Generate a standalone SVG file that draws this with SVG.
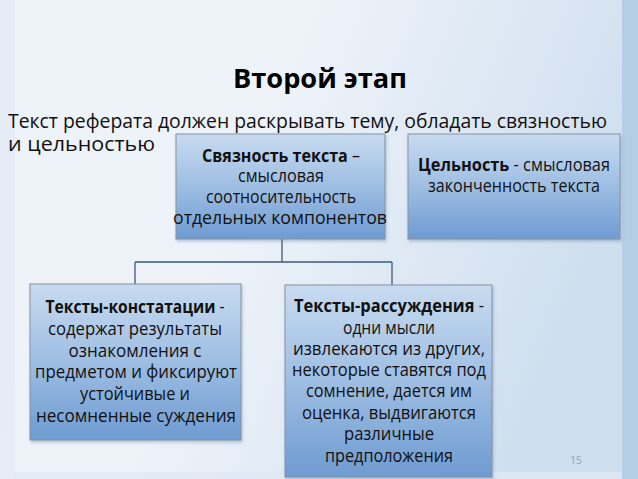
<svg xmlns="http://www.w3.org/2000/svg" width="638" height="479" viewBox="0 0 638 479">
<defs>
<linearGradient id="bg" x1="0" y1="0" x2="1" y2="0.3">
<stop offset="0" stop-color="#eef2f9"/>
<stop offset="0.45" stop-color="#eef3f9"/>
<stop offset="1" stop-color="#cfdfef"/>
</linearGradient>
<linearGradient id="box" x1="0" y1="0" x2="0" y2="1">
<stop offset="0" stop-color="#c8dbf0"/>
<stop offset="0.5" stop-color="#9ebee3"/>
<stop offset="1" stop-color="#6e9bd1"/>
</linearGradient>
<filter id="sh" x="-10%" y="-10%" width="120%" height="120%">
<feDropShadow dx="1" dy="2" stdDeviation="1.5" flood-color="#4a6a90" flood-opacity="0.35"/>
</filter>
</defs>
<style>
.b{fill:url(#box);stroke:#8792a3;stroke-width:1;filter:url(#sh)}
.t{font-family:"Open Sans","Noto Sans","DejaVu Sans",sans-serif;font-size:18.5px;fill:#111;text-anchor:middle}
.k{font-weight:bold}
.c{fill:none;stroke:#3c5a7c;stroke-width:1.3}
</style>
<rect x="0" y="0" width="638" height="479" fill="url(#bg)"/>
<rect x="0" y="0" width="15" height="479" fill="#e3eaf4" opacity="0.7"/>
<rect x="622" y="0" width="16" height="479" fill="#b6cde6"/>
<rect x="15" y="472" width="607" height="7" fill="#e0e9f4" opacity="0.8"/>

<g id="title">
<text x="320" y="88" font-family="'Open Sans','Noto Sans',sans-serif" font-size="27" font-weight="bold" fill="#000" text-anchor="middle" textLength="174" lengthAdjust="spacingAndGlyphs">Второй этап</text>
</g>
<g id="intro">
<text x="8" y="128" font-family="'Open Sans','Noto Sans',sans-serif" font-size="19.5" fill="#111" textLength="599" lengthAdjust="spacingAndGlyphs">Текст реферата должен раскрывать тему, обладать связностью</text>
<text x="8" y="151" font-family="'Open Sans','Noto Sans',sans-serif" font-size="19.5" fill="#111" textLength="147" lengthAdjust="spacingAndGlyphs">и цельностью</text>
</g>

<g id="connectors">
<path class="c" d="M282 239 V262 M135 262 H392 M135 262 V284 M392 262 V285"/>
</g>

<g id="node-svyaznost">
<rect class="b" x="176" y="134" width="209" height="105"/>
<text class="t" x="281" y="162" textLength="158" lengthAdjust="spacingAndGlyphs"><tspan class="k">Связность текста</tspan> –</text>
<text class="t" x="281" y="182" textLength="86" lengthAdjust="spacingAndGlyphs">смысловая</text>
<text class="t" x="281" y="203" textLength="150" lengthAdjust="spacingAndGlyphs">соотносительность</text>
<text class="t" x="280" y="224" textLength="214" lengthAdjust="spacingAndGlyphs">отдельных компонентов</text>
</g>

<g id="node-celnost">
<rect class="b" x="408" y="134" width="212" height="105"/>
<text class="t" x="514" y="171" textLength="192" lengthAdjust="spacingAndGlyphs"><tspan class="k">Цельность</tspan> - смысловая</text>
<text class="t" x="514" y="192" textLength="172" lengthAdjust="spacingAndGlyphs">законченность текста</text>
</g>

<g id="node-konstatacii">
<rect class="b" x="30" y="284" width="211" height="156"/>
<text class="t" x="135" y="313" textLength="179" lengthAdjust="spacingAndGlyphs"><tspan class="k">Тексты-констатации</tspan> -</text>
<text class="t" x="135" y="335" textLength="174" lengthAdjust="spacingAndGlyphs">содержат результаты</text>
<text class="t" x="135" y="357" textLength="133" lengthAdjust="spacingAndGlyphs">ознакомления с</text>
<text class="t" x="136" y="378" textLength="202" lengthAdjust="spacingAndGlyphs">предметом и фиксируют</text>
<text class="t" x="135" y="400" textLength="110" lengthAdjust="spacingAndGlyphs">устойчивые и</text>
<text class="t" x="136" y="422" textLength="200" lengthAdjust="spacingAndGlyphs">несомненные суждения</text>
</g>

<g id="node-rassuzhdeniya">
<rect class="b" x="285" y="285" width="207" height="192"/>
<text class="t" x="389" y="312" textLength="190" lengthAdjust="spacingAndGlyphs"><tspan class="k">Тексты-рассуждения</tspan> -</text>
<text class="t" x="389" y="334" textLength="92" lengthAdjust="spacingAndGlyphs">одни мысли</text>
<text class="t" x="389" y="355" textLength="192" lengthAdjust="spacingAndGlyphs">извлекаются из других,</text>
<text class="t" x="389" y="376" textLength="194" lengthAdjust="spacingAndGlyphs">некоторые ставятся под</text>
<text class="t" x="389" y="397" textLength="166" lengthAdjust="spacingAndGlyphs">сомнение, дается им</text>
<text class="t" x="389" y="419" textLength="174" lengthAdjust="spacingAndGlyphs">оценка, выдвигаются</text>
<text class="t" x="389" y="440" textLength="90" lengthAdjust="spacingAndGlyphs">различные</text>
<text class="t" x="389" y="462" textLength="128" lengthAdjust="spacingAndGlyphs">предположения</text>
</g>

<g id="page">
<text x="576" y="464" font-family="'Open Sans','Noto Sans',sans-serif" font-size="10" fill="#8ea3c2" text-anchor="middle">15</text>
</g>
</svg>
